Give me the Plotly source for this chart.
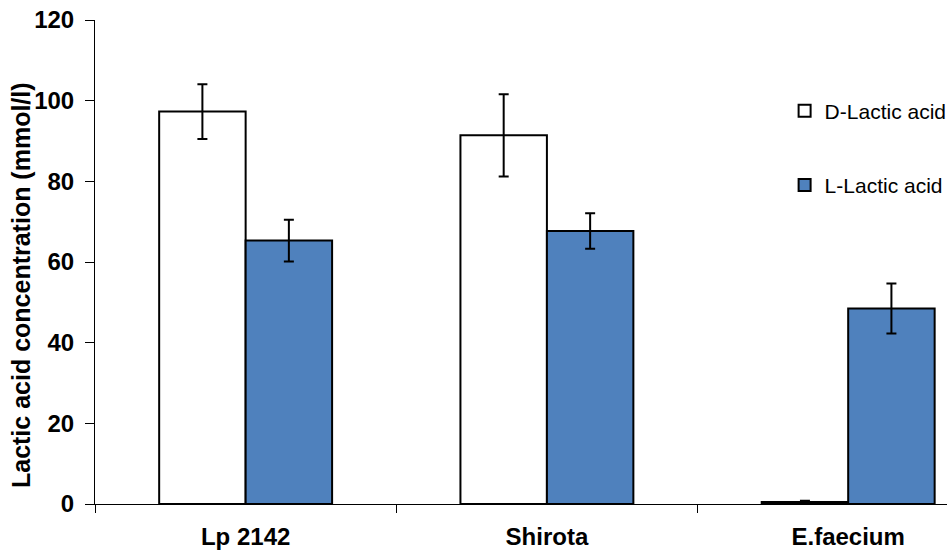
import plotly.graph_objects as go

categories = ["Lp 2142", "Shirota", "E.faecium"]
d_lactic = [97.3, 91.4, 0.5]
d_err = [6.8, 10.2, 0.3]
l_lactic = [65.3, 67.7, 48.5]
l_err = [5.2, 4.4, 6.2]
y_ticks = [0, 20, 40, 60, 80, 100, 120]

font_family = "Liberation Sans, Arial, sans-serif"

fig = go.Figure()
fig.add_trace(go.Bar(
    x=categories, y=d_lactic, name="D-Lactic acid", legendgroup="d",
    marker=dict(color="white", line=dict(color="black", width=2)),
    error_y=dict(type="data", array=d_err, visible=True, color="black", thickness=2, width=5),
))
fig.add_trace(go.Bar(
    x=categories, y=l_lactic, name="L-Lactic acid", legendgroup="l",
    marker=dict(color="#4F81BD", line=dict(color="black", width=2)),
    error_y=dict(type="data", array=l_err, visible=True, color="black", thickness=2, width=5),
))

fig.update_layout(
    width=970, height=553,
    margin=dict(l=95, r=23, t=20, b=49, autoexpand=False),
    paper_bgcolor="white", plot_bgcolor="white",
    barmode="group", bargap=0.426, bargroupgap=0,
    font=dict(family=font_family, color="black"),
    legend=dict(
        x=0.8094, y=0.854, xanchor="left", yanchor="top",
        font=dict(size=21, family=font_family, color="black"),
        traceorder="grouped", tracegroupgap=44,
        bgcolor="rgba(0,0,0,0)", itemwidth=30,
    ),
    showlegend=True,
    annotations=[dict(
        text="<b>Lactic acid concentration (mmol/l)</b>",
        textangle=-90, xref="paper", yref="paper",
        x=-0.0868, y=0.4525, xanchor="center", yanchor="middle",
        showarrow=False, font=dict(size=25, family=font_family, color="black"),
    )],
)
fig.update_xaxes(
    range=[-0.5, 2.328], automargin=False,
    showline=True, linecolor="black", linewidth=1,
    ticks="outside", tickson="boundaries", ticklen=8, tickcolor="black",
    ticklabelstandoff=11, ticklabeloverflow="allow",
    tickfont=dict(size=24, family=font_family, color="black", weight="bold"),
    showgrid=False, zeroline=False,
)
fig.update_yaxes(
    range=[0, 120], tickvals=y_ticks, automargin=False,
    showline=True, linecolor="black", linewidth=1,
    ticks="outside", ticklen=9, tickcolor="black",
    ticklabelstandoff=6, ticklabeloverflow="allow",
    tickfont=dict(size=24, family=font_family, color="black", weight="bold"),
    showgrid=False, zeroline=False,
)

fig.write_html(
    "out.html",
    config={"displayModeBar": False},
    post_script="document.body.style.margin='0';document.body.style.overflow='hidden';"
                "document.documentElement.style.overflow='hidden';",
)
